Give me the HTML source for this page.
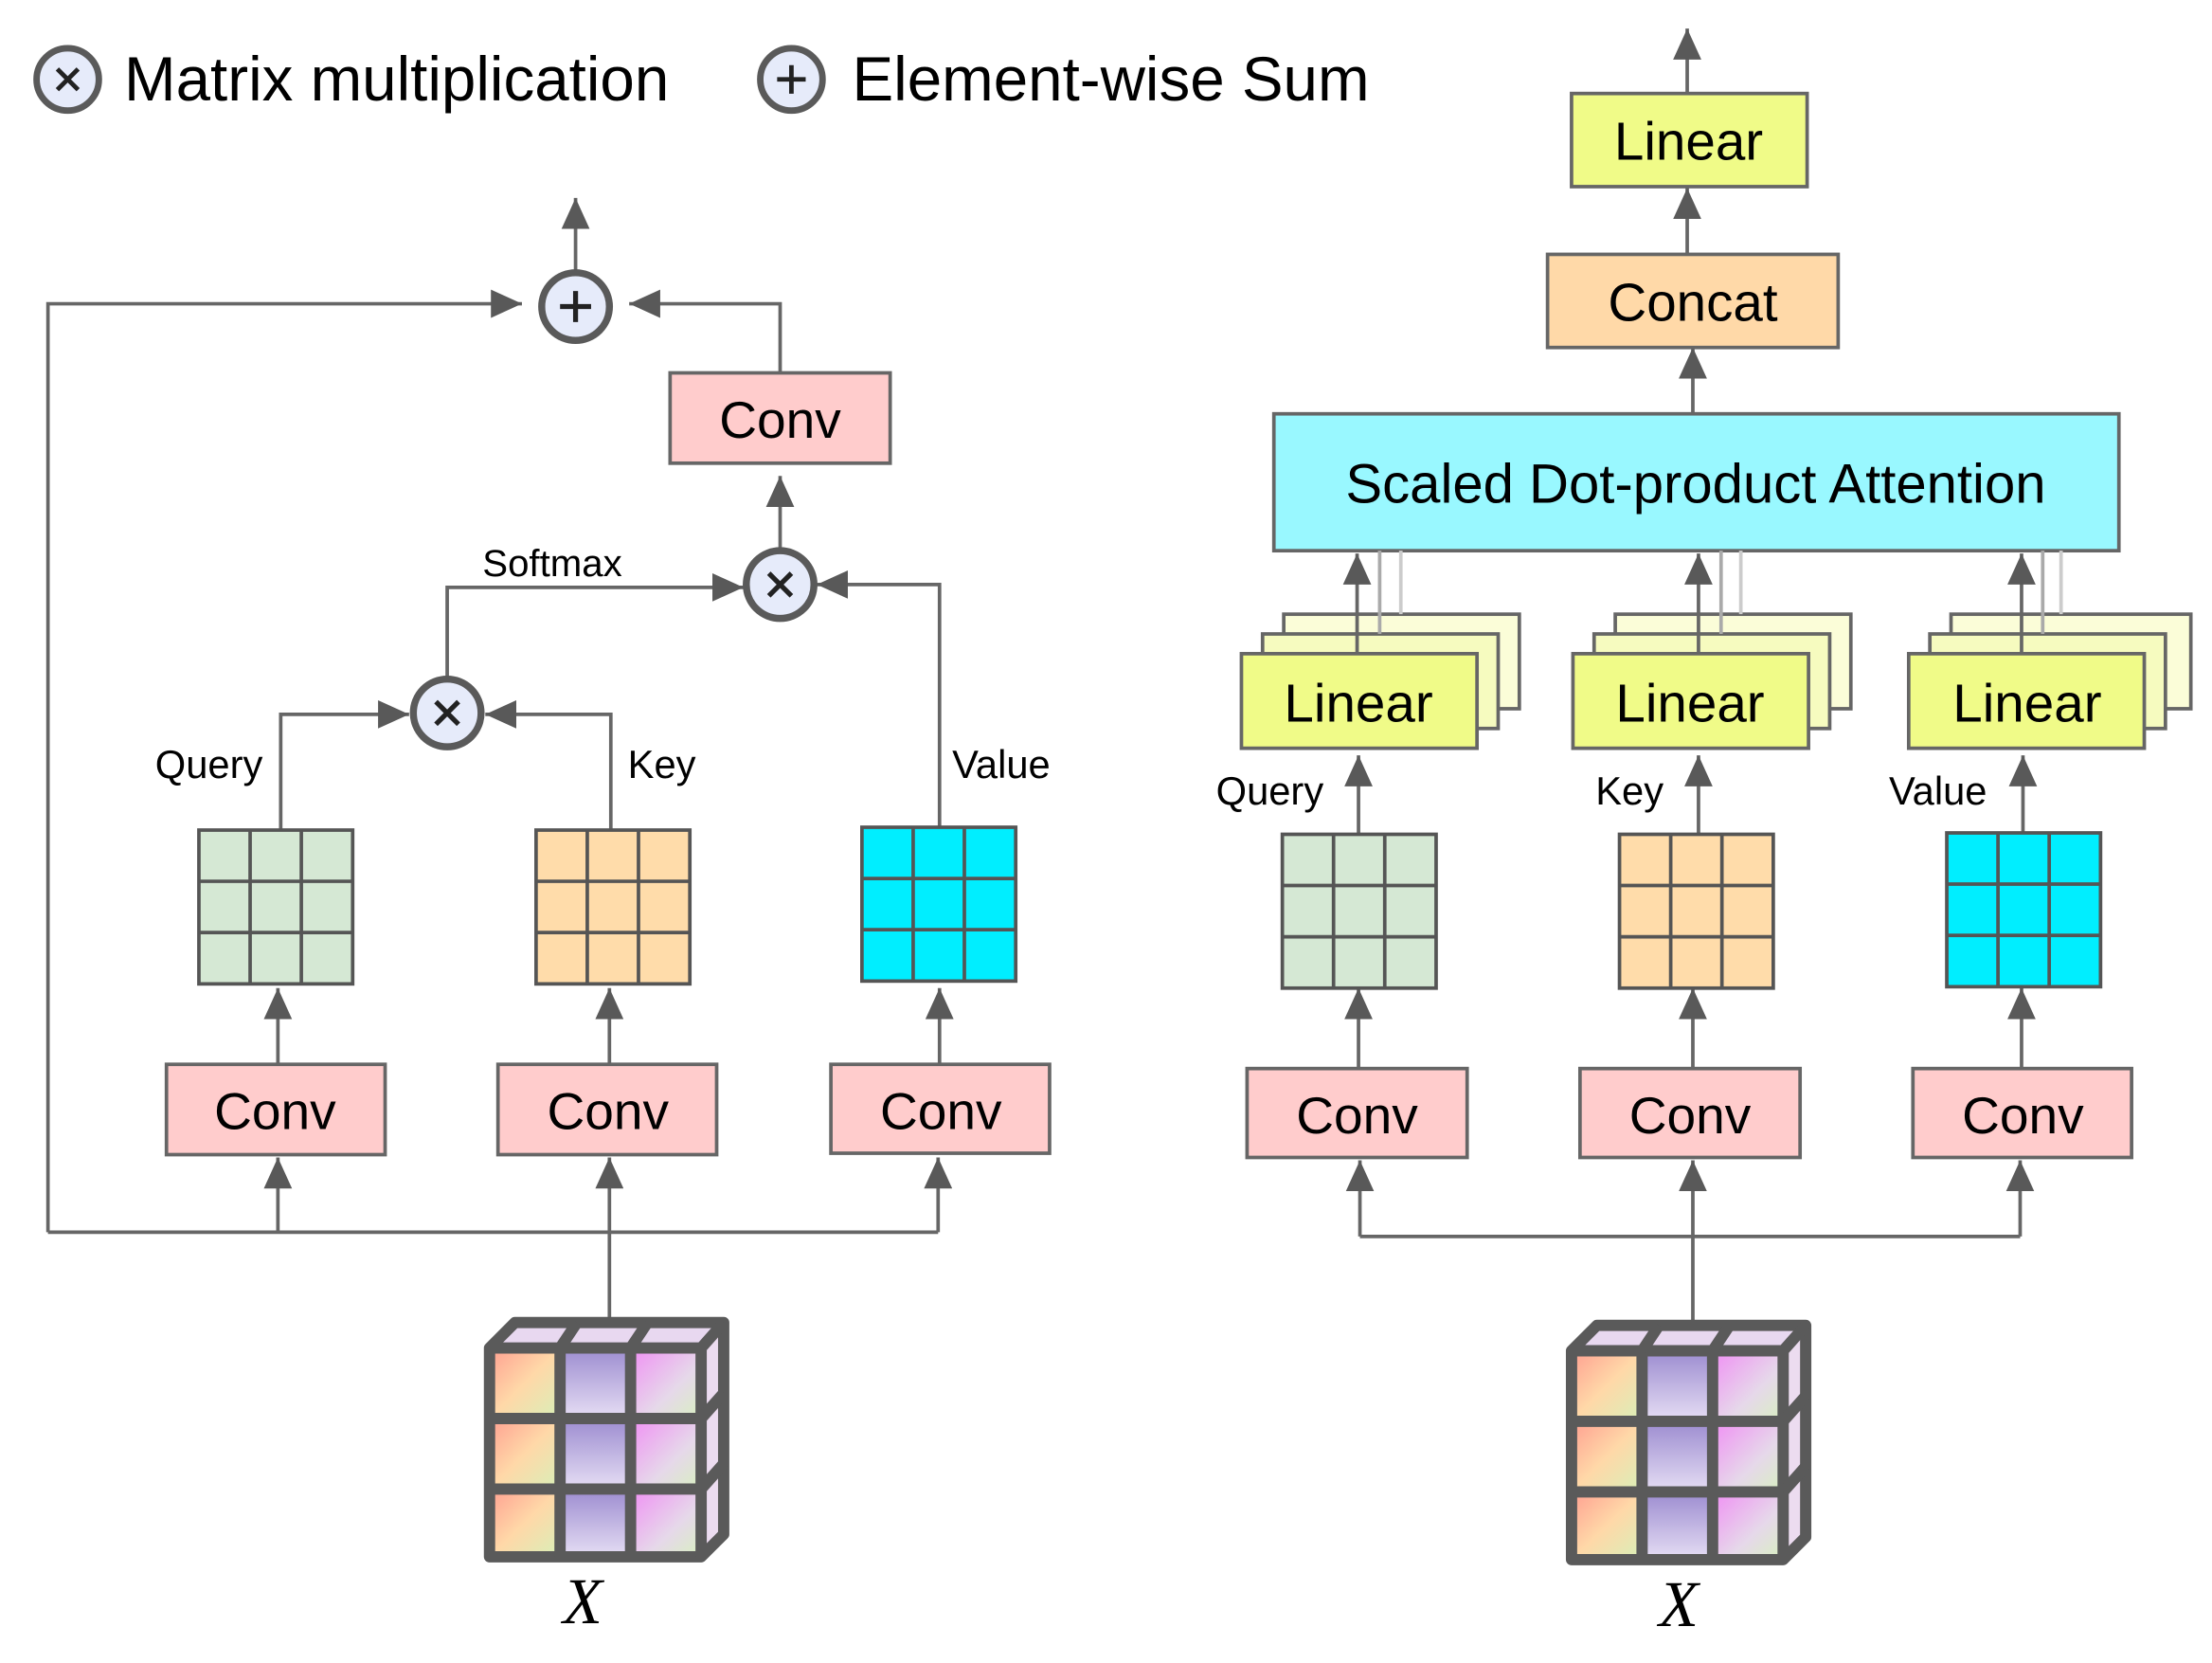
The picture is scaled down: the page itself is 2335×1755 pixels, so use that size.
<!DOCTYPE html>
<html><head><meta charset="utf-8"><style>html,body{margin:0;padding:0;background:#fff}svg{display:block}</style></head>
<body>
<svg width="2335" height="1755" viewBox="0 0 1568 1178" xmlns="http://www.w3.org/2000/svg" font-family="Liberation Sans, sans-serif">
<defs>
<marker id="a" markerUnits="userSpaceOnUse" markerWidth="24" markerHeight="20" refX="22" refY="10" orient="auto"><path d="M0,0 L22,10 L0,20 Z" fill="#595959"/></marker>
<linearGradient id="g1" x1="0" y1="0" x2="1" y2="1"><stop offset="0" stop-color="#ff9e90"/><stop offset="0.5" stop-color="#ffd8a8"/><stop offset="1" stop-color="#d8f0b8"/></linearGradient>
<linearGradient id="g2" x1="0" y1="0" x2="0" y2="1"><stop offset="0" stop-color="#9c8cd0"/><stop offset="1" stop-color="#e6def4"/></linearGradient>
<linearGradient id="g3" x1="0" y1="0" x2="1" y2="1"><stop offset="0" stop-color="#f08ef4"/><stop offset="0.6" stop-color="#e6d8ea"/><stop offset="1" stop-color="#d8f0c0"/></linearGradient>
<g id="cube">
<path d="M0,0 L18,-18 L166,-18 L150,0 Z" fill="#e8d8f0"/>
<path d="M150,0 L166,-18 L166,132 L150,148 Z" fill="#ecdcf0"/>
<rect x="0" y="0" width="50" height="50" fill="url(#g1)"/><rect x="0" y="50" width="50" height="50" fill="url(#g1)"/><rect x="0" y="100" width="50" height="48" fill="url(#g1)"/>
<rect x="50" y="0" width="50" height="50" fill="url(#g2)"/><rect x="50" y="50" width="50" height="50" fill="url(#g2)"/><rect x="50" y="100" width="50" height="48" fill="url(#g2)"/>
<rect x="100" y="0" width="50" height="50" fill="url(#g3)"/><rect x="100" y="50" width="50" height="50" fill="url(#g3)"/><rect x="100" y="100" width="50" height="48" fill="url(#g3)"/>
<g fill="none" stroke="#5a5a5a" stroke-width="8" stroke-linejoin="round">
<path d="M0,0 L18,-18 L166,-18 L166,132 L150,148 L0,148 Z"/>
<path d="M0,0 L150,0 L166,-18 M150,0 L150,148"/>
<path d="M50,0 L50,148 M100,0 L100,148 M0,50 L150,50 M0,100 L150,100"/>
<path d="M50,0 L62,-18 M100,0 L112,-18 M150,50 L166,32 M150,100 L166,82"/>
</g>
</g>
<g id="times"><circle r="24" fill="#e6ebfa" stroke="#5a5a5a" stroke-width="5"/><path d="M-8,-8 L8,8 M8,-8 L-8,8" stroke="#222" stroke-width="3.5"/></g>
<g id="plus"><circle r="24" fill="#e6ebfa" stroke="#5a5a5a" stroke-width="5"/><path d="M-11,0 H11 M0,-11 V11" stroke="#222" stroke-width="3.5"/></g>
</defs>
<use href="#times" transform="translate(48,56) scale(0.92)"/>
<text x="88" y="71" font-size="44" fill="#000">Matrix multiplication</text>
<use href="#plus" transform="translate(561,56) scale(0.92)"/>
<text x="604" y="71" font-size="44" fill="#000">Element-wise Sum</text>

<g stroke="#666" stroke-width="2.5" fill="none">
<path d="M408,192 L408,140" marker-end="url(#a)"/>
<path d="M34,873 L34,215 L370,215" marker-end="url(#a)"/>
<path d="M553,264 L553,215 L446,215" marker-end="url(#a)"/>
<path d="M553,390 L553,337" marker-end="url(#a)"/>
<path d="M317,481 L317,416 L527,416" marker-end="url(#a)"/>
<path d="M666,586 L666,414 L579,414" marker-end="url(#a)"/>
<path d="M199,587 L199,506 L290,506" marker-end="url(#a)"/>
<path d="M433,587 L433,506 L344,506" marker-end="url(#a)"/>
<path d="M197,754 L197,700" marker-end="url(#a)"/>
<path d="M432,754 L432,700" marker-end="url(#a)"/>
<path d="M666,754 L666,700" marker-end="url(#a)"/>
<path d="M34,873 L665,873"/>
<path d="M197,873 L197,820" marker-end="url(#a)"/>
<path d="M432,935 L432,820" marker-end="url(#a)"/>
<path d="M665,873 L665,820" marker-end="url(#a)"/>
</g>
<use href="#plus" transform="translate(408,217)"/>
<use href="#times" transform="translate(553,414)"/>
<use href="#times" transform="translate(317,505)"/>
<rect x="475" y="264" width="156" height="64" fill="#ffcccc" stroke="#666" stroke-width="2.5"/>
<text x="553" y="310" font-size="37" text-anchor="middle">Conv</text>
<text x="342" y="408" font-size="27">Softmax</text>
<text x="110" y="551" font-size="28">Query</text>
<text x="445" y="551" font-size="28">Key</text>
<text x="675" y="551" font-size="28">Value</text>
<g stroke="#555" stroke-width="2.5">
<rect x="141" y="588" width="109" height="109" fill="#d5e8d4"/><path d="M177.3,588V697M213.6,588V697M141,624.3H250M141,660.6H250" fill="none"/>
<rect x="380" y="588" width="109" height="109" fill="#ffdcaa"/><path d="M416.3,588V697M452.6,588V697M380,624.3H489M380,660.6H489" fill="none"/>
<rect x="611" y="586" width="109" height="109" fill="#00eeff"/><path d="M647.3,586V695M683.6,586V695M611,622.3H720M611,658.6H720" fill="none"/>
</g>
<g fill="#ffcccc" stroke="#666" stroke-width="2.5">
<rect x="118" y="754" width="155" height="64"/><rect x="353" y="754" width="155" height="64"/><rect x="589" y="754" width="155" height="63"/>
</g>
<g font-size="37" text-anchor="middle"><text x="195" y="800">Conv</text><text x="431" y="800">Conv</text><text x="667" y="800">Conv</text></g>
<use href="#cube" x="347" y="955"/>
<text x="413" y="1150" font-size="46" font-family="Liberation Serif, serif" font-style="italic" text-anchor="middle">X</text>

<g stroke="#666" stroke-width="2.5" fill="none">
<path d="M1196,66 L1196,20" marker-end="url(#a)"/>
<path d="M1196,180 L1196,133" marker-end="url(#a)"/>
<path d="M1200,293 L1200,246" marker-end="url(#a)"/>
<path d="M963,590 L963,535" marker-end="url(#a)"/>
<path d="M1204,590 L1204,535" marker-end="url(#a)"/>
<path d="M1434,590 L1434,535" marker-end="url(#a)"/>
<path d="M963,757 L963,700" marker-end="url(#a)"/>
<path d="M1200,757 L1200,700" marker-end="url(#a)"/>
<path d="M1433,757 L1433,700" marker-end="url(#a)"/>
<path d="M964,876 L1432,876"/>
<path d="M964,876 L964,822" marker-end="url(#a)"/>
<path d="M1200,938 L1200,822" marker-end="url(#a)"/>
<path d="M1432,876 L1432,822" marker-end="url(#a)"/>
</g>
<rect x="1114" y="66" width="167" height="66" fill="#f0fb88" stroke="#666" stroke-width="2.5"/>
<text x="1197" y="113" font-size="38" text-anchor="middle">Linear</text>
<rect x="1097" y="180" width="206" height="66" fill="#ffd9a8" stroke="#666" stroke-width="2.5"/>
<text x="1200" y="227" font-size="38" text-anchor="middle">Concat</text>
<rect x="903" y="293" width="599" height="97" fill="#99f8ff" stroke="#666" stroke-width="2.5"/>
<text x="1202" y="356" font-size="39" text-anchor="middle">Scaled Dot-product Attention</text>

<g stroke="#666" stroke-width="2.5">
<rect x="910" y="435" width="167" height="67" fill="#fbfdd8"/>
<path d="M993,435 V390" stroke="#ccc"/>
<rect x="895" y="449" width="167" height="67" fill="#f6fbbf"/>
<path d="M978,449 V390" stroke="#aaa"/>
<rect x="880" y="463" width="167" height="67" fill="#f0fb88"/>
<path d="M962,463 V392" fill="none" marker-end="url(#a)"/>
<rect x="1145" y="435" width="167" height="67" fill="#fbfdd8"/>
<path d="M1234,435 V390" stroke="#ccc"/>
<rect x="1130" y="449" width="167" height="67" fill="#f6fbbf"/>
<path d="M1220,449 V390" stroke="#aaa"/>
<rect x="1115" y="463" width="167" height="67" fill="#f0fb88"/>
<path d="M1204,463 V392" fill="none" marker-end="url(#a)"/>
<rect x="1383" y="435" width="170" height="67" fill="#fbfdd8"/>
<path d="M1461,435 V390" stroke="#ccc"/>
<rect x="1368" y="449" width="167" height="67" fill="#f6fbbf"/>
<path d="M1448,449 V390" stroke="#aaa"/>
<rect x="1353" y="463" width="167" height="67" fill="#f0fb88"/>
<path d="M1433,463 V392" fill="none" marker-end="url(#a)"/>
</g>
<g font-size="38" text-anchor="middle"><text x="963" y="511">Linear</text><text x="1198" y="511">Linear</text><text x="1437" y="511">Linear</text></g>
<text x="862" y="570" font-size="28">Query</text>
<text x="1131" y="570" font-size="28">Key</text>
<text x="1339" y="570" font-size="28">Value</text>
<g stroke="#555" stroke-width="2.5">
<rect x="909" y="591" width="109" height="109" fill="#d5e8d4"/><path d="M945.3,591V700M981.6,591V700M909,627.3H1018M909,663.6H1018" fill="none"/>
<rect x="1148" y="591" width="109" height="109" fill="#ffdcaa"/><path d="M1184.3,591V700M1220.6,591V700M1148,627.3H1257M1148,663.6H1257" fill="none"/>
<rect x="1380" y="590" width="109" height="109" fill="#00eeff"/><path d="M1416.3,590V699M1452.6,590V699M1380,626.3H1489M1380,662.6H1489" fill="none"/>
</g>
<g fill="#ffcccc" stroke="#666" stroke-width="2.5">
<rect x="884" y="757" width="156" height="63"/><rect x="1120" y="757" width="156" height="63"/><rect x="1356" y="757" width="155" height="63"/>
</g>
<g font-size="37" text-anchor="middle"><text x="962" y="803">Conv</text><text x="1198" y="803">Conv</text><text x="1434" y="803">Conv</text></g>
<use href="#cube" x="1114" y="957"/>
<text x="1190" y="1152" font-size="46" font-family="Liberation Serif, serif" font-style="italic" text-anchor="middle">X</text>
</svg>
</body></html>
